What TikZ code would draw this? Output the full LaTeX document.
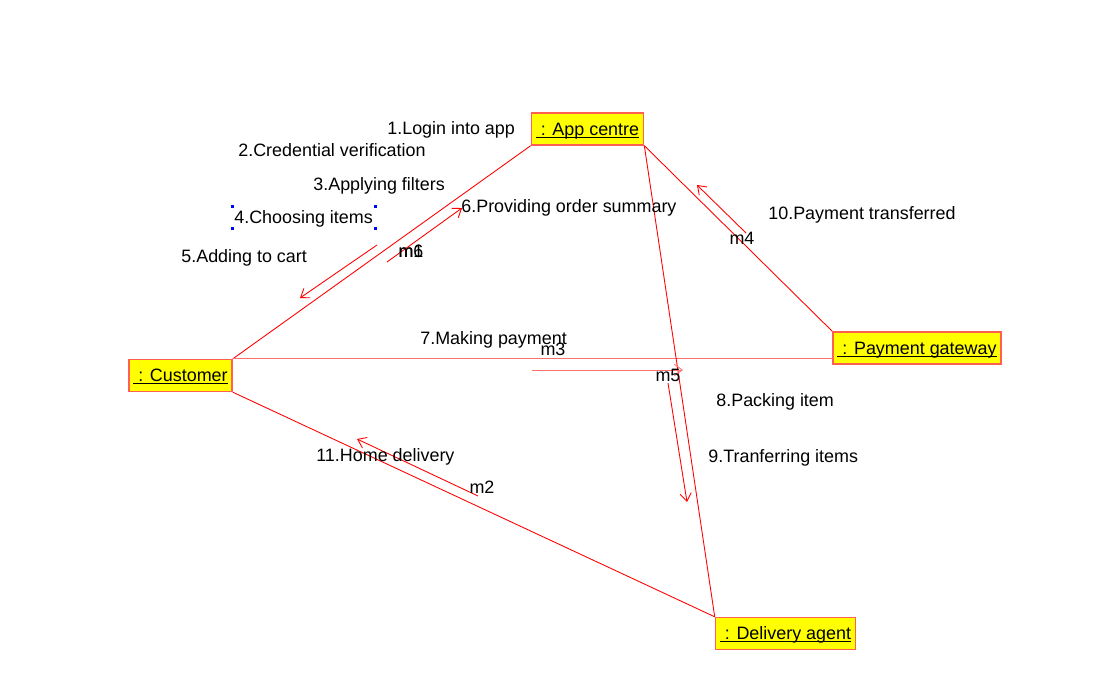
\documentclass[tikz,border=0pt]{standalone}
\usepackage{fontspec}
\setmainfont{Liberation Sans}
\usetikzlibrary{arrows.meta}
\definecolor{objline}{RGB}{255,96,80}
\definecolor{objfill}{RGB}{255,255,0}
\definecolor{linkred}{RGB}{255,0,0}
\definecolor{flatred}{RGB}{255,112,112}
\newcommand\objtext[1]{\setbox0\hbox{#1}\rlap{\rule[-1.4pt]{\wd0}{0.6pt}}\box0}

\begin{document}
\begin{tikzpicture}[
  x=0.02cm, y=-0.02cm,
  font=\fontsize{10.2}{12}\selectfont,
  obj/.style={draw=objline, line width=0.8pt, fill=objfill, minimum height=0.64cm,
    inner xsep=0.09cm, inner ysep=0pt, text height=8.3pt, text depth=1pt},
  link/.style={draw=linkred, line width=0.5pt},
  arrow/.style={-{Straight Barb[length=4.5pt,width=6.5pt]}, draw=linkred, line width=0.5pt},
  msg/.style={anchor=west, inner sep=0pt, text height=8.3pt, text depth=1pt},
  tag/.style={inner sep=0pt, text height=8.3pt, text depth=1pt},
  handle/.style={fill=blue, minimum size=0.06cm, inner sep=0pt}
]
\useasboundingbox (0,0) rectangle (1120,690);

% objects
\node[obj] (app) at (587.5,129) {\objtext{\ : App centre}};
\node[obj] (cust) at (180.5,375.5) {\objtext{\ : Customer}};
\node[obj] (gw) at (917,348) {\objtext{\ : Payment gateway}};
\node[obj] (agent) at (785.5,633.5) {\objtext{\ : Delivery agent}};

% links
\draw[link] (cust.north east) -- (app.south west);
\draw[link, draw=flatred] (cust.north east) -- (cust.north east -| gw.west);
\draw[link] (cust.south east) -- (agent.north west);
\draw[link] (app.south east) -- (gw.north west);
\draw[link] (app.south east) -- (agent.north west);

% message ends
\coordinate (toappA) at (387,262);
\coordinate (toappB) at (462,208);
\coordinate (tocustA) at (377,245);
\coordinate (tocustB) at (300,298);
\coordinate (payA) at (532,370);
\coordinate (payB) at (683,370);
\coordinate (packA) at (668,383);
\coordinate (packB) at (687,502);
\coordinate (backA) at (746,233);
\coordinate (backB) at (697,185);
\coordinate (homeA) at (478,496);
\coordinate (homeB) at (357,439);

\draw[arrow] (toappA) -- (toappB);
\draw[arrow] (tocustA) -- (tocustB);
\draw[arrow, draw=flatred] (payA) -- (payB);
\draw[arrow] (packA) -- (packB);
\draw[arrow] (backA) -- (backB);
\draw[arrow] (homeA) -- (homeB);

% message names
\node[tag] (m1) at (411,251) {m1};
\node[tag] (m6) at (411,251) {m6};
\node[tag] (m3) at (553,349) {m3};
\node[tag] (m5) at (668,375) {m5};
\node[tag] (m4) at (742,238) {m4};
\node[tag] (m2) at (482,487) {m2};

% message texts
\node[msg] (login) at (387,128) {1.Login into app};
\node[msg] (cred) at (238,150) {2.Credential verification};
\node[msg] (filter) at (313,184) {3.Applying filters};
\node[msg] (choose) at (234,217) {4.Choosing items};
\node[msg] (cart) at (181,256) {5.Adding to cart};
\node[msg] (summary) at (461,206) {6.Providing order summary};
\node[msg] (making) at (420,338) {7.Making payment};
\node[msg] (packing) at (716,400) {8.Packing item};
\node[msg] (transfer) at (708,456) {9.Tranferring items};
\node[msg] (paid) at (768,213) {10.Payment transferred};
\node[msg] (home) at (316,455) {11.Home delivery};

\foreach \hx in {232,375}
  \foreach \hy in {206,228}
    \node[handle] (h\hx\hy) at (\hx,\hy) {};
\end{tikzpicture}
\end{document}
